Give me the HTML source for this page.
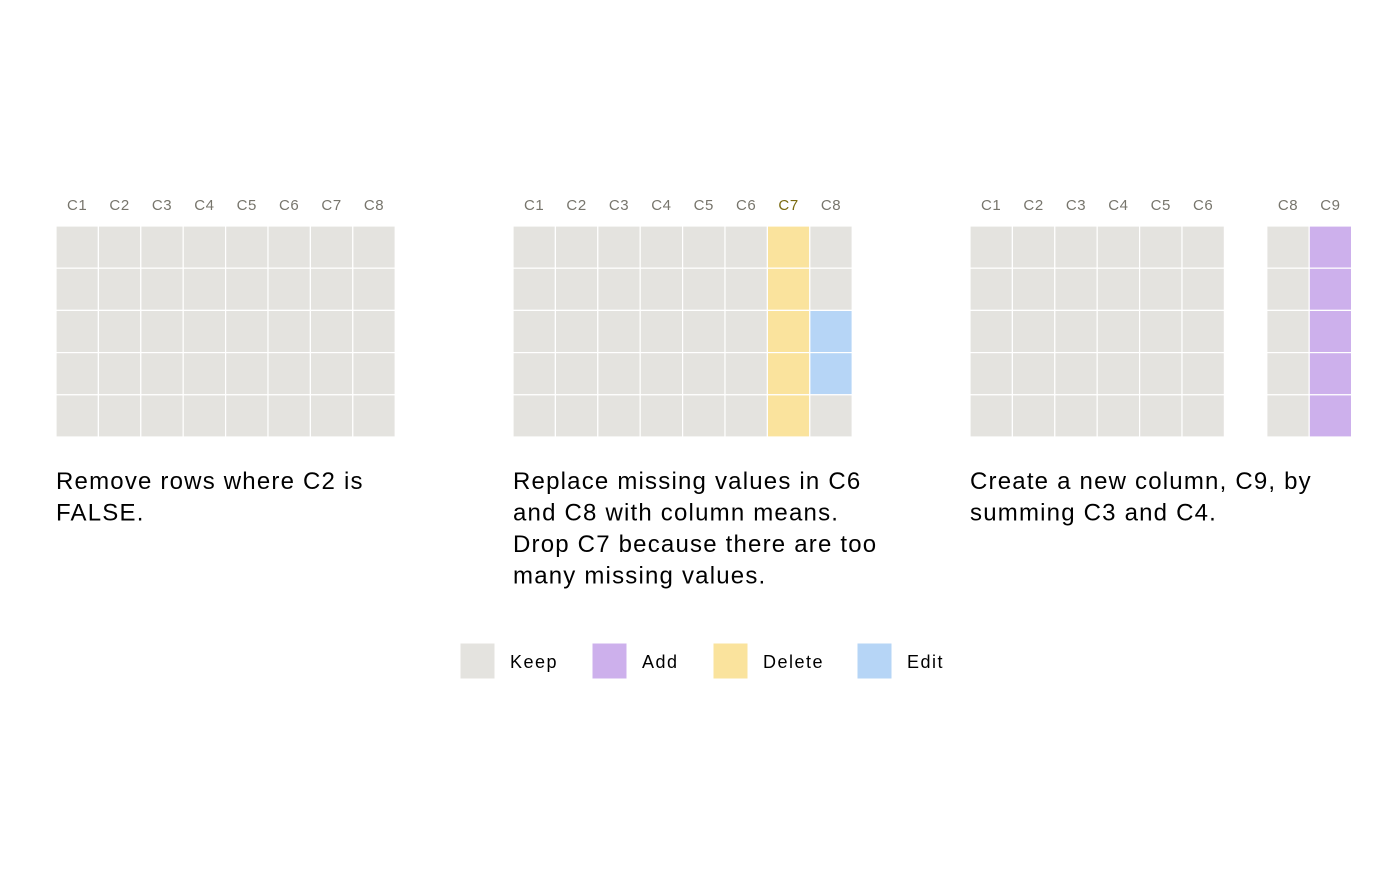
<!DOCTYPE html>
<html><head><meta charset="utf-8"><style>
body{margin:0;background:#fff;font-family:"Liberation Sans",sans-serif}
</style></head><body>
<svg id="chart" width="1400" height="866" xmlns="http://www.w3.org/2000/svg" font-family="Liberation Sans, sans-serif"></svg>
<script>
const panelX=[56,513,970];
const panelCols=[
 ["C1","C2","C3","C4","C5","C6","C7","C8"],
 ["C1","C2","C3","C4","C5","C6","C7","C8"],
 ["C1","C2","C3","C4","C5","C6","","C8","C9"]
];
// status per panel per column per row: k keep, a add, d delete, e edit, n none
const panelStatus=[
 ["kkkkk","kkkkk","kkkkk","kkkkk","kkkkk","kkkkk","kkkkk","kkkkk"],
 ["kkkkk","kkkkk","kkkkk","kkkkk","kkkkk","kkkkk","ddddd","kkeek"],
 ["kkkkk","kkkkk","kkkkk","kkkkk","kkkkk","kkkkk","nnnnn","kkkkk","aaaaa"]
];
const headerHighlight=[[],[6],[]];
const captions=[
 ["Remove rows where C2 is","FALSE."],
 ["Replace missing values in C6","and C8 with column means.","Drop C7 because there are too","many missing values."],
 ["Create a new column, C9, by","summing C3 and C4."]
];
const legendLabels=["Keep","Add","Delete","Edit"];
const legendKeys=["k","a","d","e"];
const colors={k:"#e4e3df",a:"#cdb0ec",d:"#fae39d",e:"#b6d5f6"};
const svg=document.getElementById('chart');
const NS="http://www.w3.org/2000/svg";
const cw=42.4,rh=42.2,top0=226;
function mk(t,a){const e=document.createElementNS(NS,t);for(const k in a)e.setAttribute(k,a[k]);svg.appendChild(e);return e;}
panelCols.forEach((cols,p)=>{
 cols.forEach((c,i)=>{
  const x=panelX[p]+i*cw;
  if(c){
   const t=mk('text',{x:x+cw/2,y:210,'text-anchor':'middle','font-size':15,'letter-spacing':0.6,fill:headerHighlight[p].includes(i)?'#7a6a10':'#77756c'});
   t.textContent=c;
   
   
  }
  const st=panelStatus[p][i];
  for(let r=0;r<5;r++){
   const s=st[r]; if(s==='n')continue;
   const rc=mk('rect',{x:x,y:top0+r*rh,width:cw,height:rh,fill:colors[s],stroke:'#fff','stroke-width':1.2});
   
   
  }
 });
 captions[p].forEach((line,j)=>{
  const t=mk('text',{x:panelX[p],y:489+j*31.5,'font-size':24,'letter-spacing':1.2,fill:'#000'});
  t.textContent=line;
  
  
 });
});
const legX=[460,592,713,857];
legendLabels.forEach((l,i)=>{
 const r=mk('rect',{x:legX[i],y:643,width:35,height:36,fill:colors[legendKeys[i]],stroke:'#fff','stroke-width':1});
 
 
 const t=mk('text',{x:legX[i]+50,y:668,'font-size':18,'letter-spacing':1.5,fill:'#000'});
 t.textContent=l;
 
 
});
</script>
</body></html>
